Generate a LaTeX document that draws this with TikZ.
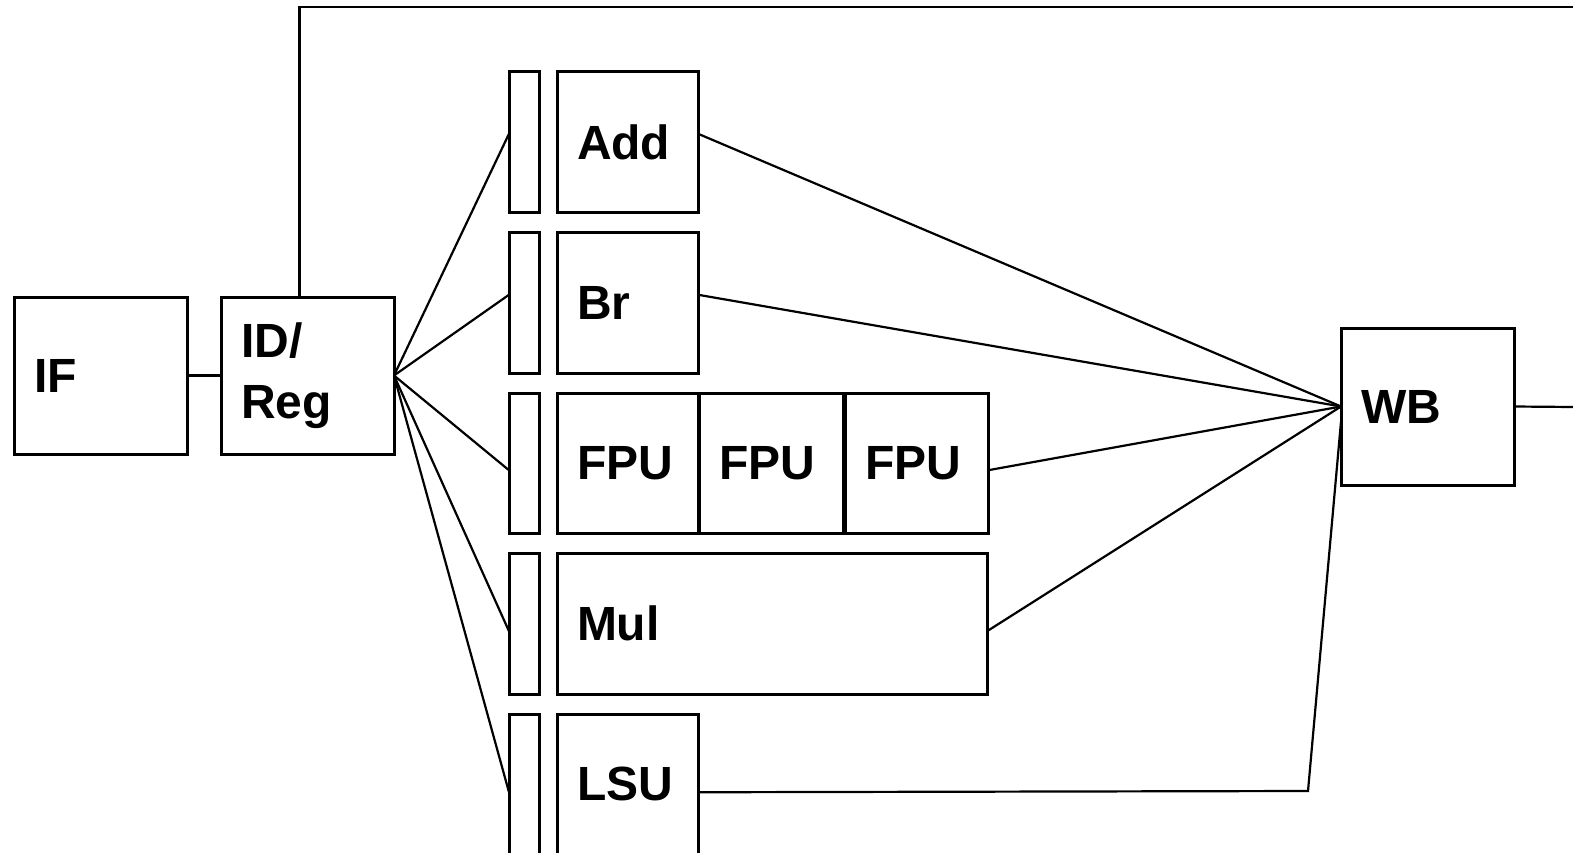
\documentclass[tikz,border=0pt]{standalone}
\usepackage{fontspec}
\setmainfont{Liberation Sans}
\usetikzlibrary{positioning}

\begin{document}
\begin{tikzpicture}[x=1pt, y=-1pt, line width=2.2pt,
  stage/.style={draw, line width=3pt, outer sep=0pt, anchor=north west, minimum height=157pt, text width=133pt, inner xsep=20pt, inner ysep=0pt, align=left, font=\fontsize{48}{61}\selectfont\bfseries},
  unit/.style={stage, minimum height=140.5pt, text width=101pt},
  latch/.style={draw, line width=3pt, outer sep=0pt, minimum width=30pt, minimum height=140.5pt, inner sep=0pt}]
\useasboundingbox (0,0) rectangle (1573,853);

% pipeline stages
\node[stage] (if) at (14,297) {IF};
\node[stage] (idreg) at (221,297) {ID/\\Reg};
\node[stage] (wb) at (1341,328) {WB};

% issue latches
\node[latch, anchor=north west] (addbar) at (509,72) {};
\node[latch, below=20pt of addbar] (brbar) {};
\node[latch, below=20pt of brbar] (fpubar) {};
\node[latch, below=20pt of fpubar] (mulbar) {};
\node[latch, below=20pt of mulbar] (lsubar) {};

% functional units
\node[unit, right=18pt of addbar.north east, anchor=north west] (add) {Add};
\node[unit, right=18pt of brbar.north east, anchor=north west] (br) {Br};
\node[unit, right=18pt of fpubar.north east, anchor=north west] (fpua) {FPU};
\node[unit, text width=104pt, right=1.5pt of fpua.north east, anchor=north west] (fpub) {FPU};
\node[unit, text width=103pt, right=1.5pt of fpub.north east, anchor=north west] (fpuc) {FPU};
\node[unit, text width=390pt, right=18pt of mulbar.north east, anchor=north west] (mul) {Mul};
\node[unit, right=18pt of lsubar.north east, anchor=north west] (lsu) {LSU};

\coordinate (loopend) at (1573,7);
\coordinate (wbout) at (1573,407);
\coordinate (lsuturn) at (1308,791);

\draw (if) -- (idreg);
\draw ([xshift=-8pt]idreg.north) |- (loopend);
\foreach \b/\s in {addbar/8.5, brbar/8, fpubar/-7, mulbar/-7.5, lsubar/-8}
  \draw (idreg.east) -- ([yshift=\s pt]\b.west);
\foreach \u/\s in {add/8.5, br/8, fpuc/-7, mul/-7.5}
  \draw ([yshift=\s pt]\u.east) -- (wb.west);
\draw ([yshift=-8pt]lsu.east) -- (lsuturn) -- ([yshift=-15pt]wb.west);
\draw (wb.east) -- (wbout);
\end{tikzpicture}
\end{document}
